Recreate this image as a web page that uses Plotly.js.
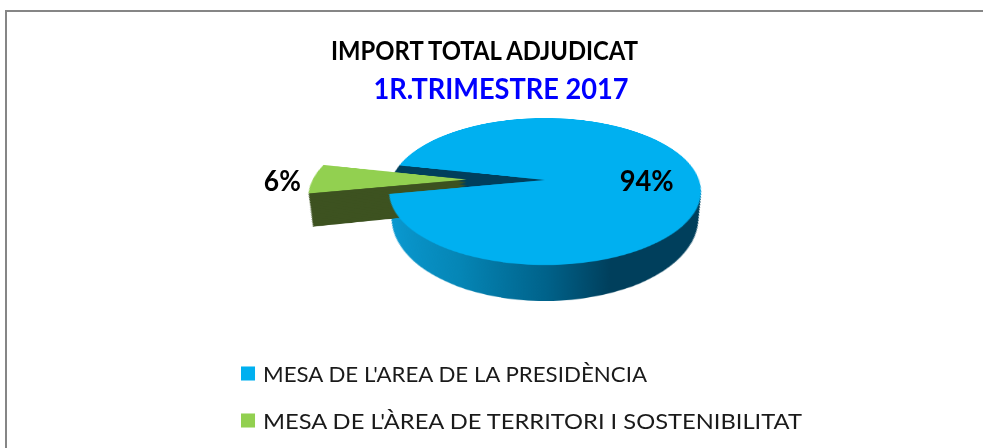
<!DOCTYPE html>
<html>
<head>
<meta charset="utf-8">
<script src="https://cdn.plot.ly/plotly-3.0.1.min.js"></script>
<style>html,body{margin:0;padding:0;background:#fff;overflow:hidden}#chart{width:983px;height:448px}</style>
</head>
<body>
<div id="chart"></div>
<script>
const labels = ["MESA DE L'AREA DE LA PRESIDÈNCIA", "MESA DE L'ÀREA DE TERRITORI I SOSTENIBILITAT"];
const values = [93.6, 6.4];
const sliceColors = ['#00b0f0', '#92d050'];
const sideOlive = '#3d5220';
const wallBlue = '#003f5c';
const titleMain = 'IMPORT TOTAL ADJUDICAT';
const titleSub = '1R.TRIMESTRE 2017';

const W = 983, H = 448;
const PULL = 0.51, NONE = 'rgba(0,0,0,0)';
const LAYERS = 20, BLUE_DEPTH = 0.335, GREEN_DEPTH = 0.41;
const R = H / 2 / (1 + PULL);
const CX = 545, CY = 180;
const A = 154, B = 71.7, K = -0.1565;

function pie(colors, pull, extra) {
  return Object.assign({
    type: 'pie', labels: labels, values: values, sort: false, direction: 'clockwise',
    rotation: 282.2, pull: pull, textinfo: 'none', hoverinfo: 'label+percent', showlegend: false,
    domain: {x: [(CX - H / 2) / W, (CX + H / 2) / W], y: [0, 1]},
    marker: {colors: colors, line: {width: 0}}
  }, extra || {});
}

const data = [], depths = [], gradientIdx = [];
for (let i = LAYERS; i >= 1; i--) {
  gradientIdx.push(data.length);
  depths.push([i / LAYERS, BLUE_DEPTH]);
  data.push(pie([sliceColors[0], NONE], [0, PULL]));
}
depths.push(null);
data.push(pie([NONE, wallBlue], [PULL, 0]));
for (let i = LAYERS; i >= 1; i--) {
  depths.push([i / LAYERS, GREEN_DEPTH]);
  data.push(pie([NONE, sideOlive], [0, PULL]));
}
depths.push(null);
data.push(pie(sliceColors, [0, PULL], {showlegend: true}));

const layout = {
  width: W, height: H, margin: {l: 0, r: 0, t: 0, b: 0, autoexpand: false},
  paper_bgcolor: 'rgba(0,0,0,0)', plot_bgcolor: 'rgba(0,0,0,0)',
  font: {family: 'Lato', color: '#000'},
  title: {
    text: titleMain,
    font: {family: 'Lato', size: 27, weight: 700, color: '#000'},
    x: 484.5 / W, xanchor: 'center', y: 1 - 60 / H, yanchor: 'bottom', automargin: false
  },
  legend: {
    x: 248 / W, xanchor: 'left', y: 1 - 361 / H, yanchor: 'top', orientation: 'v',
    font: {family: 'Lato', size: 22, color: '#1a1a1a'}, bgcolor: NONE, traceorder: 'normal'
  },
  annotations: values.map((v, i) => ({
    xref: 'paper', yref: 'paper', x: (i === 0 ? 646 : 282.5) / W, y: 1 - 179.5 / H,
    xanchor: 'center', yanchor: 'middle', showarrow: false,
    text: Math.round(v) + '%', font: {family: 'Lato', size: 29, weight: 700, color: '#000'}
  })).concat([{
    xref: 'paper', yref: 'paper', x: 500.5 / W, y: 1 - 87.5 / H,
    xanchor: 'center', yanchor: 'middle', showarrow: false,
    text: titleSub, font: {family: 'Lato', size: 29, weight: 700, color: '#0000ff'}
  }]),
  shapes: [{
    type: 'rect', xref: 'paper', yref: 'paper', layer: 'above',
    x0: 6 / W, x1: 1.02, y0: 1 - 11 / H, y1: -0.1,
    line: {color: '#868686', width: 2}, fillcolor: NONE
  }]
};

function fit(el, px) {
  if (!el) return;
  el.setAttribute('textLength', px);
  el.setAttribute('lengthAdjust', 'spacingAndGlyphs');
}

Plotly.newPlot('chart', data, layout, {displayModeBar: false, responsive: false}).then(function () {
  const gd = document.getElementById('chart');
  const svg = gd.querySelectorAll('svg.main-svg')[0];
  const NS = 'http://www.w3.org/2000/svg';
  const defs = svg.querySelector('defs');
  const grad = document.createElementNS(NS, 'linearGradient');
  grad.setAttribute('id', 'sideGrad');
  grad.setAttribute('x1', '0'); grad.setAttribute('x2', '1'); grad.setAttribute('y1', '0'); grad.setAttribute('y2', '0');
  [[0, '#0a9ad2'], [0.25, '#0586b6'], [0.5, '#00628a'], [0.68, '#003f5c'], [1, '#003f5c']].forEach(function (s) {
    const st = document.createElementNS(NS, 'stop');
    st.setAttribute('offset', s[0]); st.setAttribute('stop-color', s[1]);
    grad.appendChild(st);
  });
  defs.appendChild(grad);

  const traces = svg.querySelectorAll('.pielayer .trace');
  traces.forEach(function (t, i) {
    const d = depths[i];
    if (!d) return;
    const dv = d[0] * d[1];
    const s = (1 + K * dv) * (1 - 0.02 * d[0]);
    t.setAttribute('transform', 'translate(' + (CX * (1 - s)) + ',' + (dv * R) + ') scale(' + s + ',1)');
  });
  gradientIdx.forEach(function (i) {
    const p = traces[i].querySelector('.slice path.surface');
    if (p) p.style.fill = 'url(#sideGrad)';
  });

  // project the flat pie onto a tilted plane
  svg.style.overflow = 'visible';
  svg.style.transformOrigin = CX + 'px ' + (H / 2) + 'px';
  svg.style.transform = 'translate(0px,' + (CY - H / 2) + 'px) matrix3d(' +
    [A / R, 0, 0, 0, 0, B / R, 0, K / R, 0, 0, 1, 0, 0, 0, 0, 1].join(',') + ')';

  // legend spacing, swatch size, text position
  const widths = [384, 539];
  const box = gd.querySelector('.legend .scrollbox');
  if (box) box.removeAttribute('clip-path');
  gd.querySelectorAll('.legend .traces').forEach(function (it, i) {
    it.setAttribute('transform', 'translate(0,' + (12.5 + i * 47) + ')');
    const sym = it.querySelector('.legendpoints path');
    if (sym) sym.setAttribute('transform', 'scale(1.17)');
    const tx = it.querySelector('.legendtext');
    if (tx) { tx.setAttribute('x', parseFloat(tx.getAttribute('x')) - 25); fit(tx, widths[i]); }
  });

  // match the narrower letterforms of the original
  fit(gd.querySelector('.gtitle'), 307);
  const ann = gd.querySelectorAll('.annotation-text');
  fit(ann[0], 54);
  fit(ann[1], 37);
  fit(ann[2], 255);
});
</script>
</body>
</html>
